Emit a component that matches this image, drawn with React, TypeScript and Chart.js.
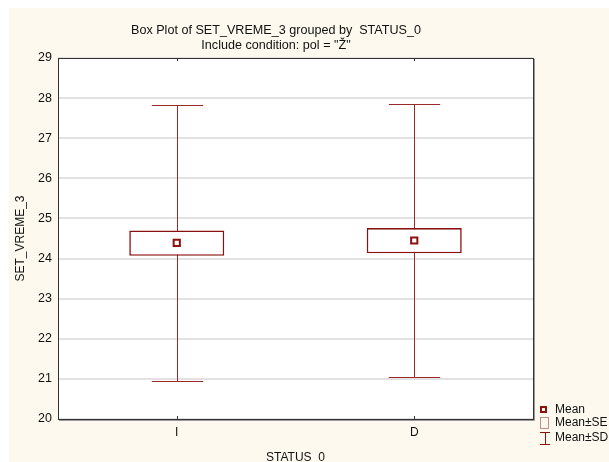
import React, { useEffect, useRef } from 'react';
import { Chart, registerables } from 'chart.js';
Chart.register(...registerables);

const categories = ['I', 'D'];
const means = [24.39, 24.45];
const seLow = [24.07, 24.13];
const seHigh = [24.7, 24.76];
const sdLow = [20.95, 21.05];
const sdHigh = [27.83, 27.85];
const yMin = 20;
const yMax = 29;
const yStep = 1;

const titleLines = ['Box Plot of SET_VREME_3 grouped by  STATUS_0', 'Include condition: pol = "Ž"'];
const xTitle = 'STATUS_0';
const yTitle = 'SET_VREME_3';
const legendLabels = ['Mean', 'Mean±SE', 'Mean±SD'];

const FONT = '"Liberation Sans", Arial, sans-serif';
const RED = '#8b1010';
const WHISKER = '#9a2a2a';
const BG = '#fdf9ee';

const boxPlugin = {
  id: 'boxPlugin',
  beforeDraw(chart: any) {
    const ctx = chart.ctx;
    ctx.save();
    ctx.fillStyle = '#ffffff';
    ctx.fillRect(0, 0, chart.width, chart.height);
    ctx.fillStyle = BG;
    ctx.fillRect(9, 8, chart.width - 9, chart.height - 8);
    const a = chart.chartArea;
    ctx.fillStyle = '#ffffff';
    ctx.fillRect(a.left, a.top, a.right - a.left, a.bottom - a.top);
    ctx.restore();
  },
  beforeDatasetsDraw(chart: any) {
    const ctx = chart.ctx;
    const xs = chart.scales.x;
    const ys = chart.scales.y;
    const barMeta = chart.getDatasetMeta(0);
    ctx.save();
    ctx.strokeStyle = WHISKER;
    ctx.lineWidth = 1;
    categories.forEach((_, i) => {
      const x = Math.round(xs.getPixelForValue(i)) + 0.5;
      const bw = barMeta.data[i] ? barMeta.data[i].width : 90;
      const cap = bw * 0.27;
      const yt = Math.round(ys.getPixelForValue(sdHigh[i])) + 0.5;
      const yb = Math.round(ys.getPixelForValue(sdLow[i])) + 0.5;
      ctx.beginPath();
      ctx.moveTo(x, yt);
      ctx.lineTo(x, yb);
      ctx.moveTo(x - cap, yt);
      ctx.lineTo(x + cap, yt);
      ctx.moveTo(x - cap, yb);
      ctx.lineTo(x + cap, yb);
      ctx.stroke();
    });
    ctx.restore();
  },
  afterDraw(chart: any) {
    const ctx = chart.ctx;
    const a = chart.chartArea;
    const xs = chart.scales.x;
    ctx.save();
    // frame
    ctx.strokeStyle = '#9a9a9a';
    ctx.lineWidth = 1;
    ctx.beginPath();
    ctx.moveTo(a.right + 1.5, a.top + 1);
    ctx.lineTo(a.right + 1.5, a.bottom + 1.5);
    ctx.lineTo(a.left + 1, a.bottom + 1.5);
    ctx.stroke();
    ctx.strokeStyle = '#333333';
    ctx.strokeRect(Math.round(a.left) + 0.5, Math.round(a.top) + 0.5, Math.round(a.right - a.left), Math.round(a.bottom - a.top));
    // category ticks top & bottom
    ctx.beginPath();
    categories.forEach((_, i) => {
      const x = Math.round(xs.getPixelForValue(i)) + 0.5;
      ctx.moveTo(x, a.top);
      ctx.lineTo(x, a.top + 3);
      ctx.moveTo(x, a.bottom);
      ctx.lineTo(x, a.bottom - 3);
    });
    ctx.stroke();
    // titles
    ctx.fillStyle = '#111111';
    ctx.font = '12.6px ' + FONT;
    ctx.textAlign = 'center';
    ctx.textBaseline = 'middle';
    ctx.fillText(titleLines[0], 276, 31);
    ctx.fillText(titleLines[1], 276, 46);
    ctx.font = '12px ' + FONT;
    ctx.textBaseline = 'alphabetic';
    ctx.fillText(xTitle, (a.left + a.right) / 2, 461);
    ctx.save();
    ctx.translate(21, (a.top + a.bottom) / 2);
    ctx.rotate(-Math.PI / 2);
    ctx.textBaseline = 'middle';
    ctx.fillText(yTitle, 0, 0);
    ctx.restore();
    // legend
    const lx = 541;
    const ly = [410, 423, 438];
    ctx.textAlign = 'left';
    ctx.textBaseline = 'middle';
    legendLabels.forEach((t, i) => ctx.fillText(t, lx + 14, ly[i]));
    ctx.strokeStyle = RED;
    ctx.lineWidth = 2;
    ctx.strokeRect(lx, ly[0] - 3, 5, 5);
    ctx.lineWidth = 1;
    ctx.strokeStyle = '#c58a8a';
    ctx.strokeRect(lx - 0.5, ly[1] - 5.5, 8, 11);
    ctx.strokeStyle = RED;
    ctx.beginPath();
    ctx.moveTo(lx - 1, ly[2] - 5.5);
    ctx.lineTo(lx + 9, ly[2] - 5.5);
    ctx.moveTo(lx + 4.5, ly[2] - 5.5);
    ctx.lineTo(lx + 4.5, ly[2] + 6.5);
    ctx.moveTo(lx - 1, ly[2] + 6.5);
    ctx.lineTo(lx + 9, ly[2] + 6.5);
    ctx.stroke();
    ctx.restore();
  },
};

export default function App() {
  const ref = useRef<HTMLCanvasElement>(null);
  useEffect(() => {
    if (!ref.current) return;
    const chart = new Chart(ref.current, {
      type: 'bar',
      data: {
        labels: categories,
        datasets: [
          {
            type: 'bar',
            label: 'Mean±SE',
            data: categories.map((_, i) => [seLow[i], seHigh[i]]) as any,
            backgroundColor: '#ffffff',
            borderColor: RED,
            borderWidth: 1.6,
            borderSkipped: false,
            barPercentage: 0.4,
            categoryPercentage: 1,
            order: 2,
          },
          {
            type: 'line',
            label: 'Mean',
            data: means,
            showLine: false,
            pointStyle: 'rect',
            pointRadius: 4.4,
            pointBorderWidth: 2,
            pointBackgroundColor: '#ffffff',
            pointBorderColor: RED,
            order: 1,
          } as any,
        ],
      },
      options: {
        responsive: false,
        animation: false,
        layout: { padding: { top: 58, right: 76, left: 0, bottom: 0 } },
        plugins: { legend: { display: false }, title: { display: false }, tooltip: { enabled: false } },
        scales: {
          x: {
            offset: true,
            grid: { display: false, drawTicks: false },
            border: { display: false },
            ticks: { font: { family: FONT, size: 12 }, color: '#111111', padding: 6 },
            afterFit: (s: any) => { s.height = 43; },
          },
          y: {
            min: yMin,
            max: yMax,
            grid: { color: '#e2e2e2', lineWidth: 2, drawTicks: false },
            border: { display: false },
            ticks: { stepSize: yStep, font: { family: FONT, size: 12.5 }, color: '#111111', padding: 6 },
            afterFit: (s: any) => { s.width = 58; },
          },
        },
      },
      plugins: [boxPlugin],
    });
    return () => chart.destroy();
  }, []);
  return (
    <canvas
      ref={ref}
      width={609}
      height={462}
      style={{ display: 'block', position: 'fixed', left: 0, top: 0 }}
    />
  );
}
